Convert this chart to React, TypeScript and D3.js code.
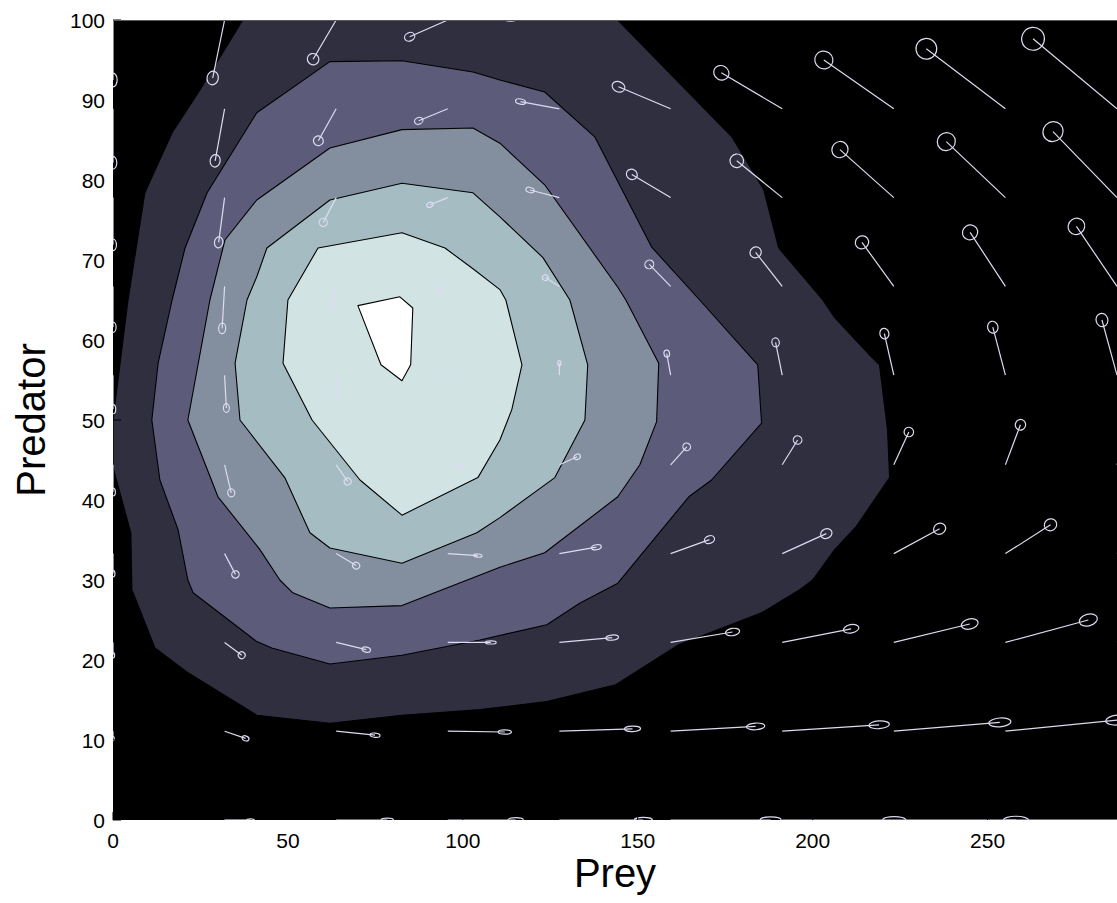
import React from "react";
import * as d3 from "d3";

// Phase-plane figure: filled density contours (bone palette) with a quiver field on top.
const WIDTH = 1117;
const HEIGHT = 903;

const PREY_MAX = 287;
const PREDATOR_MAX = 100;

const preyTicks = [0, 50, 100, 150, 200, 250];
const predatorTicks = [0, 10, 20, 30, 40, 50, 60, 70, 80, 90, 100];

// Fill colours from the lowest band (background) to the peak.
const levelColors = ["#000000", "#302f40", "#5c5c7a", "#838e9e", "#a6bcc3", "#d2e3e3", "#ffffff"];

// Contour outlines as [prey, predator] vertices, one array per level (outermost first).
const contourLevel1: [number, number][] = [
  [37.1, 100], [144.3, 100], [176.9, 85.4], [186, 78.8], [190.3, 71.5], [202.9, 65], [206.3, 62.8],
  [216.3, 58.1], [219.1, 56.9], [221.4, 48.8], [222, 42.8], [212.3, 36.6], [206.3, 33.8], [200, 30],
  [196.3, 28.8], [185.4, 25.9], [161.7, 21.9], [143.7, 16.9], [124, 14.8], [104.9, 13.8], [82.6, 13.1],
  [62, 12.1], [41.1, 13.1], [21.1, 18.5], [12, 21.5], [5.4, 28.8], [5.1, 35.9], [0, 44.1], [0, 50],
  [4.3, 65], [9.1, 78.4], [16.9, 85.9], [24.9, 91.3],
];
const contourLevel2: [number, number][] = [
  [62, 94.8], [82.6, 94.9], [102.9, 93.5], [110.6, 92.5], [123.4, 91], [137.7, 85.4], [154, 71.6],
  [167.7, 65], [184.3, 56.9], [185.4, 49.6], [171.1, 42.5], [164.6, 40.4], [144.3, 29.6], [133.4, 27.1],
  [124, 24.4], [104.9, 22.5], [82.6, 20.6], [62, 19.5], [45.4, 21.5], [41.1, 22.3], [22.9, 28.4],
  [21.4, 30], [18.6, 36.3], [13.4, 42.5], [11.1, 50], [12.9, 57.1], [16.9, 65], [20.6, 71.5],
  [26.9, 78.4], [41.1, 88.4],
];
const contourLevel3: [number, number][] = [
  [62, 84], [82.6, 86.3], [102.9, 86.5], [110.6, 84.6], [123.4, 79.4], [144.3, 66.6], [146.6, 65],
  [156, 57.1], [155.4, 49.8], [150.6, 44.4], [144.3, 40.4], [123.4, 33.4], [110.6, 31.6], [82.6, 26.8],
  [62, 26.5], [51.4, 28.4], [47.7, 30], [42, 33.8], [30, 40.4], [21.4, 50], [27.7, 65], [32, 72.5],
  [41.1, 77.5],
];
const contourLevel4: [number, number][] = [
  [62, 77.5], [82.6, 79.6], [102.9, 78.4], [110.6, 75.4], [122.9, 70.3], [130.6, 65], [135.7, 56.9],
  [134.9, 50], [126.3, 42.8], [110.6, 37.8], [104, 35.9], [82.6, 32.1], [62, 34], [56.3, 35.9],
  [49.1, 42.8], [36.3, 50], [34.9, 57.1], [38.3, 65], [41.1, 67.9], [44, 71.5],
];
const contourLevel5: [number, number][] = [
  [58.6, 71.5], [82.6, 73.4], [94.9, 71.5], [102.9, 68.9], [110.6, 66.3], [112.3, 65], [116.9, 56.9],
  [114, 51.3], [110.6, 47.5], [104.3, 42.8], [82.6, 38.1], [70.6, 42.5], [56.9, 50], [48.6, 57.1],
  [50, 65],
];
const contourLevel6: [number, number][] = [
  [70, 64.3], [82, 65.4], [85.7, 64], [85.1, 56.9], [82.6, 54.9], [76.6, 56.9],
];
const contourLevels = [contourLevel1, contourLevel2, contourLevel3, contourLevel4, contourLevel5, contourLevel6];

// Quiver grid (10 x 10) and vector components in data units; rows go up in predator.
const quiverPrey = [0, 31.9, 63.8, 95.7, 127.6, 159.4, 191.3, 223.2, 255.1, 287];
const quiverPredator = [0, 11.1, 22.2, 33.3, 44.4, 55.6, 66.7, 77.8, 88.9, 100];
const quiverU: number[][] = [
  [0, 7.4, 14.6, 19.4, 24, 28.6, 32, 34.9, 36.6, 37.7],
  [0, 6, 11.1, 16.3, 20.9, 24.3, 27.7, 30.3, 32, 33.1],
  [0, 4.9, 8.6, 12.3, 15.1, 17.7, 19.7, 21.7, 23.7, 25.1],
  [0, 3.1, 5.7, 8.6, 10.6, 11.1, 12.6, 13.1, 12.9, 13.1],
  [0, 1.9, 3.3, 3.7, 5.1, 4.6, 4.4, 4.3, 4.3, 4],
  [0, 0.5, 0.5, 0.3, 0, -1.1, -1.9, -2.7, -3.6, -4.3],
  [0, -0.7, -1.3, -2.9, -4, -6.1, -7.6, -9.1, -10.1, -11.6],
  [0, -1.7, -3.7, -5.1, -8.4, -11.1, -13, -15.4, -16.9, -18.3],
  [0, -2.7, -5.1, -8.3, -11.1, -14.9, -17.4, -20, -22.6, -24],
  [0, -3.4, -6.6, -10.9, -14, -17.7, -20.6, -23.4, -25.7, -27.4],
];
const quiverV: number[][] = [
  [0, 0, 0, 0, 0, 0, 0, 0, 0, 0],
  [-0.9, -0.9, -0.5, -0.1, 0.3, 0.6, 0.8, 1.1, 1.4, 1.6],
  [-1.6, -1.6, -0.9, 0, 0.6, 1.3, 1.7, 2.3, 2.8, 3.1],
  [-2.5, -2.6, -1.5, -0.25, 0.8, 1.75, 2.5, 3.1, 3.6, 4.1],
  [-3.4, -3.5, -2.1, -0.25, 1, 2.25, 3.1, 4.1, 5, 5.75],
  [-4.25, -4.1, -2.25, -0.1, 1.5, 2.7, 4.1, 5.2, 6, 6.9],
  [-5.1, -5.25, -2.5, -0.75, 1.1, 2.75, 4.25, 5.5, 6.75, 7.5],
  [-5.9, -5.6, -3.1, -0.9, 0.95, 2.9, 4.6, 6, 7, 8.25],
  [-6.75, -6.5, -4, -1.5, 0.9, 2.75, 4.5, 6.1, 7.5, 8.75],
  [-7.5, -7.25, -4.9, -2.1, 0.1, 2.25, 4.1, 5.75, 7.25, 8.75],
];

const FONT = "'Liberation Sans', Arial, Helvetica, sans-serif";
const ARROW_COLOR = "#dcdcf0";

export default function App() {
  const plotLeft = 113;
  const plotRight = 1117;
  const plotTop = 20;
  const plotBottom = 820;

  const x = d3.scaleLinear().domain([0, PREY_MAX]).range([plotLeft, plotRight]);
  const y = d3.scaleLinear().domain([0, PREDATOR_MAX]).range([plotBottom, plotTop]);

  const outline = d3
    .line<[number, number]>()
    .x((d) => x(d[0]))
    .y((d) => y(d[1]))
    .curve(d3.curveLinearClosed);

  const arrows: React.ReactNode[] = [];
  quiverPredator.forEach((pv, j) => {
    quiverPrey.forEach((px, i) => {
      const u = quiverU[j][i];
      const v = quiverV[j][i];
      const x0 = x(px);
      const y0 = y(pv);
      const x1 = x(px + u);
      const y1 = y(pv + v);
      const len = Math.hypot(x1 - x0, y1 - y0);
      if (len < 0.5) return;
      const theta = Math.atan2(y1 - y0, x1 - x0);
      const a = 0.09 * len + 1.5;
      const s = Math.abs(Math.sin(theta));
      const ratio = 0.3 + 0.6 * Math.abs(Math.sin(2 * theta)) + 0.3 * s * s;
      const b = Math.max(1, a * ratio);
      arrows.push(
        <g key={`q-${j}-${i}`}>
          <line x1={x0} y1={y0} x2={x1} y2={y1} stroke={ARROW_COLOR} strokeWidth={1.2} />
          <ellipse
            cx={x1}
            cy={y1}
            rx={a}
            ry={b}
            transform={`rotate(${(theta * 180) / Math.PI} ${x1} ${y1})`}
            fill="none"
            stroke={ARROW_COLOR}
            strokeWidth={1.2}
          />
        </g>
      );
    });
  });

  return (
    <svg
      width={WIDTH}
      height={HEIGHT}
      style={{ position: "absolute", left: 0, top: 0, background: "#ffffff" }}
      fontFamily={FONT}
    >
      <defs>
        <clipPath id="plot-fill">
          <rect x={plotLeft} y={plotTop} width={plotRight - plotLeft} height={plotBottom - plotTop} />
        </clipPath>
      </defs>

      <rect x={plotLeft} y={plotTop} width={plotRight - plotLeft} height={plotBottom - plotTop} fill={levelColors[0]} />

      <g clipPath="url(#plot-fill)">
        {contourLevels.map((pts, k) => (
          <path key={`lvl-${k}`} d={outline(pts) ?? ""} fill={levelColors[k + 1]} stroke="#000" strokeWidth={1.1} strokeLinejoin="round" />
        ))}
      </g>

      <g clipPath="url(#plot-fill)">{arrows}</g>

      {/* inward tick marks */}
      {preyTicks.map((t) => (
        <line key={`xt-${t}`} x1={x(t)} x2={x(t)} y1={plotBottom} y2={plotBottom - 8} stroke="#000" strokeWidth={1} />
      ))}
      {predatorTicks.map((t) => (
        <line key={`yt-${t}`} x1={plotLeft} x2={plotLeft + 8} y1={y(t)} y2={y(t)} stroke="#000" strokeWidth={1} />
      ))}

      <line x1={plotLeft} x2={plotRight} y1={plotTop + 0.5} y2={plotTop + 0.5} stroke="#5a5a5a" strokeWidth={1} />

      {preyTicks.map((t) => (
        <text key={`xl-${t}`} x={x(t)} y={848} textAnchor="middle" fontSize={21} fill="#000">
          {t}
        </text>
      ))}
      {predatorTicks.map((t) => (
        <text key={`yl-${t}`} x={105} y={y(t) + 7.5} textAnchor="end" fontSize={21} fill="#000">
          {t}
        </text>
      ))}

      <text x={(plotLeft + plotRight) / 2} y={887} textAnchor="middle" fontSize={40} fill="#000">
        Prey
      </text>
      <text transform={`translate(45, ${(plotTop + plotBottom) / 2}) rotate(-90)`} textAnchor="middle" fontSize={40} fill="#000">
        Predator
      </text>
    </svg>
  );
}
